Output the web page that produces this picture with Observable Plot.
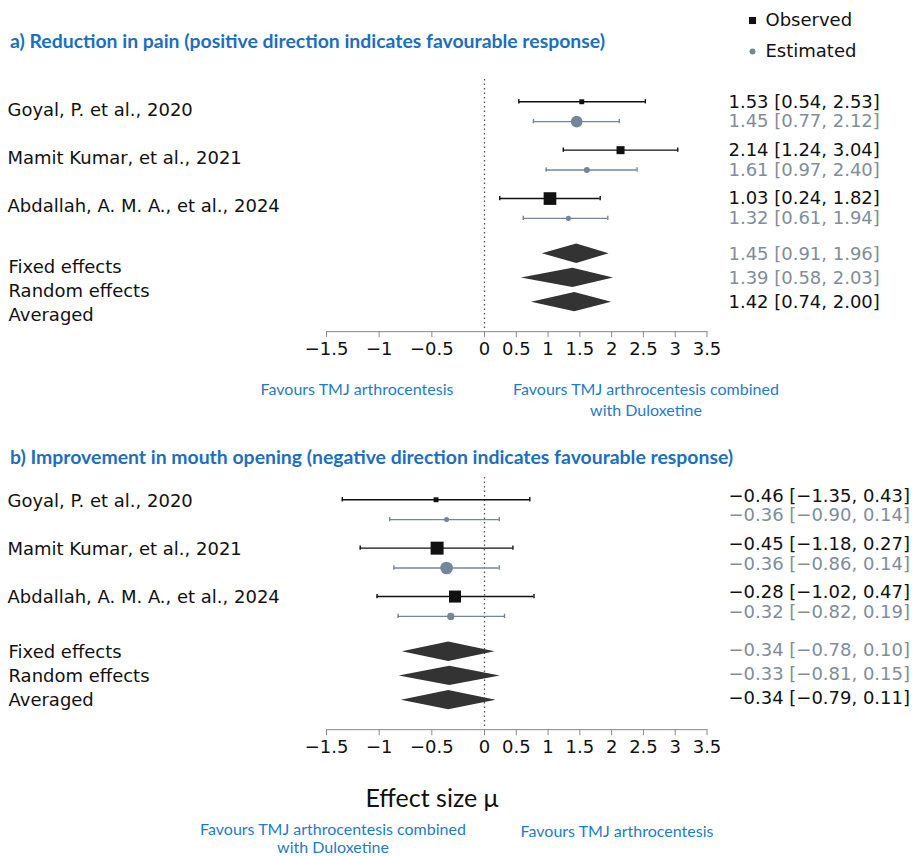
<!DOCTYPE html>
<html><head><meta charset="utf-8">
<script src="https://cdn.jsdelivr.net/npm/d3@7"></script>
<script src="https://cdn.jsdelivr.net/npm/@observablehq/plot@0.6"></script>
<style>
body{margin:0;background:#fff;}
#root{position:relative;width:912px;height:856px;overflow:hidden;font-family:"DejaVu Sans",sans-serif;}
#root svg{position:absolute;left:0;}
.abs{position:absolute;white-space:nowrap;}
.title{font-family:Lato,sans-serif;font-weight:700;font-size:19.4px;color:#1b6fc0;transform:translateY(-50%);}
.fav{font-family:Lato,sans-serif;font-size:16px;color:#1f7bc8;text-align:center;transform:translate(-50%,-50%);}
.xlab{font-family:Lato,sans-serif;font-size:25px;color:#111;transform:translate(-50%,-50%);}
</style></head><body><div id="root"></div>
<script>
// ---------- data ----------
const studies = ["Goyal, P. et al., 2020", "Mamit Kumar, et al., 2021", "Abdallah, A. M. A., et al., 2024"];
const summaryLabels = ["Fixed effects", "Random effects", "Averaged"];
const tickValues = [-1.5, -1, -0.5, 0, 0.5, 1, 1.5, 2, 2.5, 3, 3.5];
const legendLabels = ["Observed", "Estimated"];

// a) Reduction in pain
const painObsMean = [1.53, 2.14, 1.03];
const painObsLo   = [0.54, 1.24, 0.24];
const painObsHi   = [2.53, 3.04, 1.82];
const painObsWeight = [12, 32, 80];
const painEstMean = [1.45, 1.61, 1.32];
const painEstLo   = [0.77, 0.97, 0.61];
const painEstHi   = [2.12, 2.40, 1.94];
const painEstWeight = [54, 14, 10];
const painSumMean = [1.45, 1.39, 1.42];
const painSumLo   = [0.91, 0.58, 0.74];
const painSumHi   = [1.96, 2.03, 2.00];

// b) Improvement in mouth opening
const mouthObsMean = [-0.46, -0.45, -0.28];
const mouthObsLo   = [-1.35, -1.18, -1.02];
const mouthObsHi   = [0.43, 0.27, 0.47];
const mouthObsWeight = [12, 84, 72];
const mouthEstMean = [-0.36, -0.36, -0.32];
const mouthEstLo   = [-0.90, -0.86, -0.82];
const mouthEstHi   = [0.14, 0.14, 0.19];
const mouthEstWeight = [10, 63, 21];
const mouthSumMean = [-0.34, -0.33, -0.34];
const mouthSumLo   = [-0.78, -0.81, -0.79];
const mouthSumHi   = [0.10, 0.15, 0.11];

// ---------- styles / layout ----------
const C = {black: "#111", gray: "#74869a", grayText: "#808d9b", diamond: "#333", axis: "#8a8a8a", zero: "#555"};
const L = {width: 912, left: 326, zeroX: 484, right: 706.5, slotPx: 24.2, yMin: -1.22, yMax: 9.2,
  marginTop: 10, marginBottom: 48, studyTop: 7.46, studyStep: 2, obsOffset: 0.82, summaryTop: 2,
  capHalf: 0.09, diamondHalf: 0.4, numDx: 21.5, labelX: 7, font: 18, tickLen: 0.25, tickLabelDy: 23};
// The shared axis graphic is drawn with a wider spacing on the negative side than on the positive side.
const negPx = (L.zeroX - L.left) / 1.5;   // px per unit, negative tick labels
const posPx = (L.right - L.zeroX) / 3.5;  // px per unit, positive tick labels
const fmt = d3.format(".2f");
const fmtTick = d => d < 0 ? "\u2212" + (-d) : String(d);

const root = document.getElementById("root");

function rowsOf(mean, lo, hi, weight, kind) {
  return mean.map((m, i) => ({
    i, mean: m, lo: lo[i], hi: hi[i], w: weight ? weight[i] : 0,
    y: L.studyTop - L.studyStep * i + (kind === "obs" ? L.obsOffset : 0)
  }));
}
function capsOf(rows) { return rows.flatMap(r => [{x: r.lo, y: r.y}, {x: r.hi, y: r.y}]); }
const numText = d => `${fmt(d.mean)} [${fmt(d.lo)}, ${fmt(d.hi)}]`;

function panel(p) {
  const obs = rowsOf(p.obsMean, p.obsLo, p.obsHi, p.obsW, "obs");
  const est = rowsOf(p.estMean, p.estLo, p.estHi, p.estW, "est");
  const sum = p.sumMean.map((m, j) => ({j, mean: m, lo: p.sumLo[j], hi: p.sumHi[j], y: L.summaryTop - j}));
  const diamonds = sum.flatMap(s => [
    {z: s.j, y: s.y - L.diamondHalf, x1: s.mean, x2: s.mean},
    {z: s.j, y: s.y, x1: s.lo, x2: s.hi},
    {z: s.j, y: s.y + L.diamondHalf, x1: s.mean, x2: s.mean}
  ]);
  const pp = p.pxPerUnit; // data scale of this panel
  const tickPos = t => (t < 0 ? t * negPx : t * posPx) / pp;
  const innerH = (L.yMax - L.yMin) * L.slotPx;
  const height = L.marginTop + innerH + L.marginBottom;
  const svg = Plot.plot({
    width: L.width, height,
    marginLeft: L.left, marginRight: L.width - L.right, marginTop: L.marginTop, marginBottom: L.marginBottom,
    style: {background: "transparent", fontFamily: "DejaVu Sans", fontSize: "18px", overflow: "visible"},
    x: {domain: [(L.left - L.zeroX) / pp, (L.right - L.zeroX) / pp], axis: null},
    y: {domain: [L.yMin, L.yMax], axis: null},
    r: {type: "sqrt", domain: [0, 100], range: [0, 8]},
    marks: [
      Plot.ruleX([0], {stroke: C.zero, strokeDasharray: "1.5,3", strokeWidth: 1.3}),
      // axis
      Plot.frame({anchor: "bottom", stroke: C.axis}),
      Plot.ruleX(tickValues, {x: tickPos, y1: L.yMin, y2: L.yMin - L.tickLen, stroke: C.axis}),
      Plot.text(tickValues, {x: tickPos, text: fmtTick, frameAnchor: "bottom", dy: L.tickLabelDy, fontSize: L.font, fill: C.black}),
      // error bars
      Plot.ruleY(obs, {x1: "lo", x2: "hi", y: "y", stroke: C.black, strokeWidth: 1.4}),
      Plot.ruleX(capsOf(obs), {x: "x", y1: d => d.y - L.capHalf, y2: d => d.y + L.capHalf, stroke: C.black, strokeWidth: 1.4}),
      Plot.ruleY(est, {x1: "lo", x2: "hi", y: "y", stroke: C.gray, strokeWidth: 1.4}),
      Plot.ruleX(capsOf(est), {x: "x", y1: d => d.y - L.capHalf, y2: d => d.y + L.capHalf, stroke: C.gray, strokeWidth: 1.4}),
      // point estimates
      Plot.dot(obs, {x: "mean", y: "y", r: "w", symbol: "square", fill: C.black}),
      Plot.dot(est, {x: "mean", y: "y", r: "w", symbol: "circle", fill: C.gray}),
      // summary diamonds
      Plot.areaX(diamonds, {x1: "x1", x2: "x2", y: "y", z: "z", fill: C.diamond}),
      // left labels
      Plot.text(obs, {y: "y", text: d => studies[d.i], frameAnchor: "left", textAnchor: "start", dx: L.labelX - L.left, dy: p.studyLabelDy, fontSize: L.font, fill: C.black}),
      Plot.text(sum, {y: "y", text: d => summaryLabels[d.j], frameAnchor: "left", textAnchor: "start", dx: L.labelX + 1 - L.left, dy: p.sumLabelDy, fontSize: L.font, fill: C.black}),
      // right numbers
      Plot.text(obs, {y: "y", text: numText, frameAnchor: "right", textAnchor: "start", dx: L.numDx, dy: p.numDy, fontSize: L.font, fill: C.black}),
      Plot.text(est, {y: "y", text: numText, frameAnchor: "right", textAnchor: "start", dx: L.numDx, dy: p.numDy, fontSize: L.font, fill: C.grayText}),
      Plot.text(sum.filter(d => d.j < 2), {y: "y", text: numText, frameAnchor: "right", textAnchor: "start", dx: L.numDx, dy: p.sumNumDy, fontSize: L.font, fill: C.grayText}),
      Plot.text(sum.filter(d => d.j === 2), {y: "y", text: numText, frameAnchor: "right", textAnchor: "start", dx: L.numDx, dy: p.sumNumDy, fontSize: L.font, fill: C.black})
    ]
  });
  svg.style.top = (p.axisY - L.marginTop - innerH) + "px";
  root.appendChild(svg);
}

panel({obsMean: painObsMean, obsLo: painObsLo, obsHi: painObsHi, obsW: painObsWeight,
  estMean: painEstMean, estLo: painEstLo, estHi: painEstHi, estW: painEstWeight,
  sumMean: painSumMean, sumLo: painSumLo, sumHi: painSumHi, pxPerUnit: posPx,
  axisY: 331, studyLabelDy: 8, sumLabelDy: 13, numDy: 0, sumNumDy: 0});
panel({obsMean: mouthObsMean, obsLo: mouthObsLo, obsHi: mouthObsHi, obsW: mouthObsWeight,
  estMean: mouthEstMean, estLo: mouthEstLo, estHi: mouthEstHi, estW: mouthEstWeight,
  sumMean: mouthSumMean, sumLo: mouthSumLo, sumHi: mouthSumHi, pxPerUnit: negPx,
  axisY: 729, studyLabelDy: 1, sumLabelDy: 0, numDy: -4, sumNumDy: -2});

// legend
const legend = Plot.plot({
  width: 182, height: 70, marginLeft: 22, marginRight: 10, marginTop: 0, marginBottom: 0,
  style: {background: "transparent", fontFamily: "DejaVu Sans", overflow: "visible"},
  y: {type: "point", domain: legendLabels, range: [20, 51], padding: 0, axis: null},
  marks: [
    Plot.dot([legendLabels[0]], {y: d => d, frameAnchor: "left", symbol: "square", r: 4, fill: C.black}),
    Plot.dot([legendLabels[1]], {y: d => d, frameAnchor: "left", symbol: "circle", r: 3, fill: C.gray}),
    Plot.text(legendLabels, {y: d => d, text: d => d, frameAnchor: "left", textAnchor: "start", dx: 13, fontSize: L.font, fill: C.black})
  ]
});
legend.style.left = "730px"; legend.style.top = "0px";
root.appendChild(legend);

// html texts
function addDiv(cls, html, x, y, lh) {
  const d = document.createElement("div");
  d.className = "abs " + cls; d.innerHTML = html;
  d.style.left = x + "px"; d.style.top = y + "px";
  if (lh) d.style.lineHeight = lh + "px";
  root.appendChild(d); return d;
}
addDiv("title", "a) Reduction in pain (positive direction indicates favourable response)", 10, 40);
addDiv("title", "b) Improvement in mouth opening (negative direction indicates favourable response)", 10, 456);
addDiv("fav", "Favours TMJ arthrocentesis", 357, 388, 21);
addDiv("fav", "Favours TMJ arthrocentesis combined<br>with Duloxetine", 646, 398.5, 21);
addDiv("fav", "Favours TMJ arthrocentesis combined<br>with Duloxetine", 333, 838, 18);
addDiv("fav", "Favours TMJ arthrocentesis", 617, 831, 18);
addDiv("xlab", "Effect size \u03bc", 432, 797);
</script></body></html>
